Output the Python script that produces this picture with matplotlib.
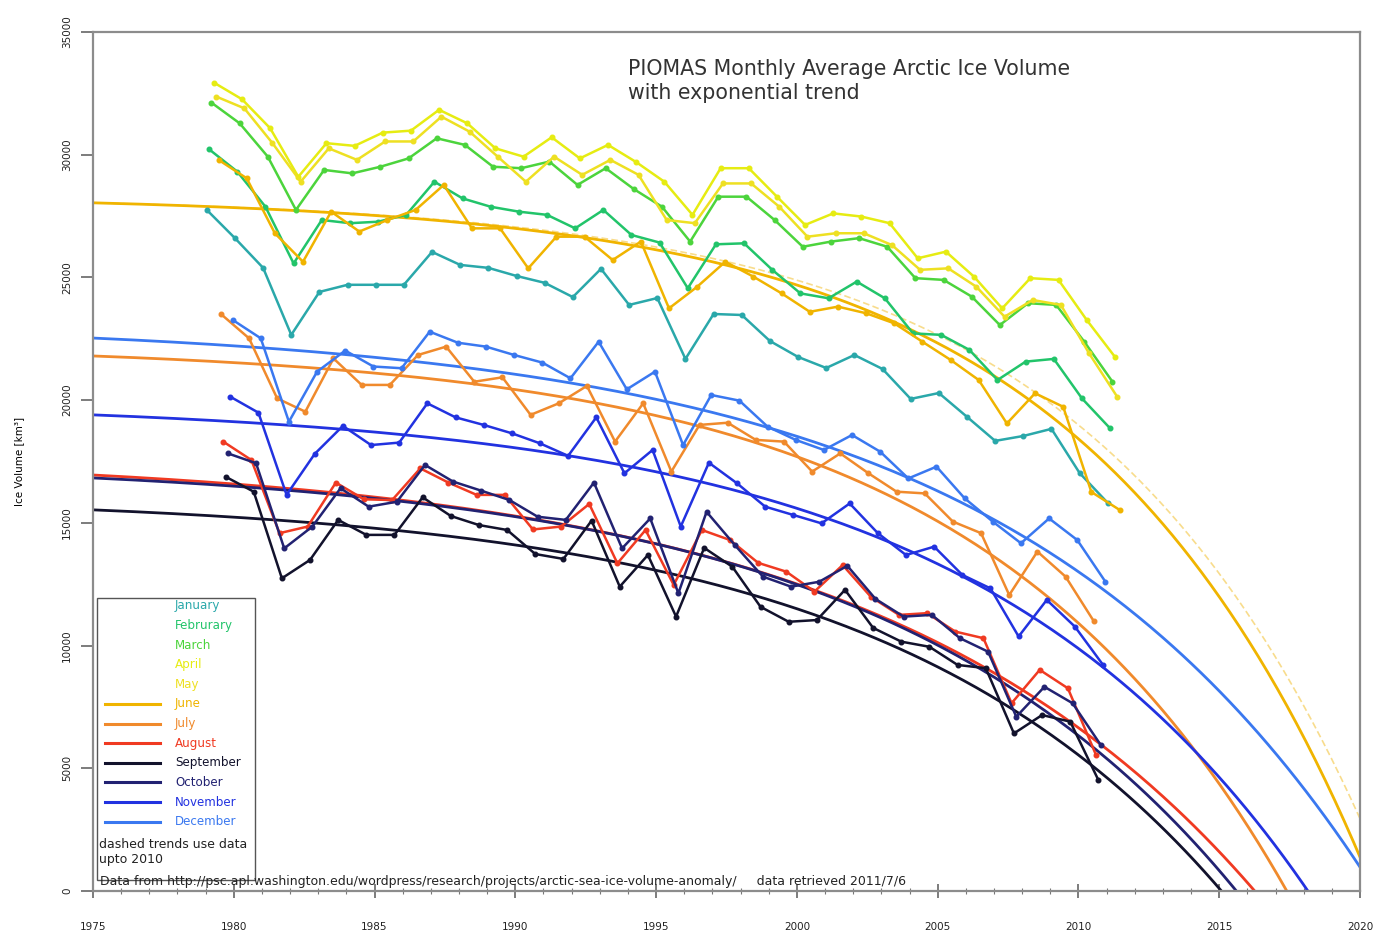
import numpy as np
import matplotlib.pyplot as plt

plt.rcParams['font.family'] = ['DejaVu Sans']

# ---------- Data: PIOMAS monthly average ice volume (km^3) ----------

MONTHS = ["January", "Februrary", "March", "April", "May", "June", "July",
          "August", "September", "October", "November", "December"]
COLORS = ["#2aa8aa", "#22c46a", "#4cd43c", "#e6ec12", "#eee022", "#f0b400",
          "#f08a2c", "#f03a22", "#12122c", "#222272", "#2232e0", "#3a78f0"]

YEARS_2011 = np.arange(1979, 2012)   # Jan - Jun go up to 2011
YEARS_2010 = np.arange(1979, 2011)   # Jul - Dec go up to 2010

jan = [27750, 26600, 25390, 22660, 24410, 24700, 24700, 24700, 26040, 25510, 25390,
       25060, 24780, 24200, 25350, 23880, 24160, 21680, 23510, 23470, 22410, 21760,
       21310, 21840, 21270, 20050, 20290, 19320, 18340, 18540, 18830, 17030, 15810]
feb = [30220, 29310, 27880, 25570, 27340, 27210, 27270, 27550, 28900, 28220, 27880,
       27680, 27550, 27000, 27750, 26730, 26420, 24560, 26350, 26390, 25310, 24350,
       24150, 24830, 24150, 22720, 22660, 22050, 20820, 21570, 21680, 20070, 18850]
mar = [32120, 31280, 29920, 27750, 29380, 29240, 29510, 29850, 30670, 30400, 29510,
       29450, 29720, 28770, 29450, 28600, 27880, 26460, 28290, 28290, 27340, 26250,
       26460, 26600, 26250, 24970, 24900, 24220, 23060, 23950, 23880, 22380, 20750]
apr = [32940, 32260, 31080, 29100, 30470, 30360, 30900, 30980, 31830, 31280, 30260,
       29920, 30710, 29850, 30400, 29700, 28900, 27550, 29450, 29450, 28290, 27140,
       27610, 27480, 27210, 25780, 26050, 25030, 23740, 24970, 24900, 23270, 21770]
may = [32370, 31890, 30470, 28900, 30260, 29790, 30540, 30540, 31550, 30940, 29920,
       28900, 29920, 29180, 29790, 29180, 27340, 27210, 28830, 28830, 27880, 26660,
       26800, 26800, 26320, 25310, 25370, 24620, 23400, 24080, 23880, 21910, 20140]
jun = [29790, 29040, 26800, 25640, 27680, 26870, 27340, 27750, 28770, 27000, 27000,
       25370, 26660, 26660, 25710, 26460, 23740, 24620, 25640, 25030, 24350, 23600,
       23810, 23540, 23130, 22380, 21640, 20820, 19050, 20280, 19730, 16260, 15530]
jul = [23510, 22520, 20070, 19530, 21700, 20620, 20620, 21840, 22180, 20750, 20930,
       19400, 19870, 20580, 18310, 19870, 17090, 18990, 19080, 18380, 18310, 17090,
       17830, 17020, 16270, 16200, 15050, 14580, 12060, 13830, 12810, 11000]
aug = [18310, 17560, 14580, 14850, 16640, 15960, 15930, 17220, 16640, 16140, 16140,
       14730, 14850, 15770, 13350, 14710, 12470, 14710, 14300, 13370, 13010, 12200,
       13280, 11990, 11250, 11320, 10570, 10300, 7650, 9010, 8260, 5540]
sep = [16880, 16270, 12740, 13490, 15120, 14510, 14510, 16040, 15280, 14910, 14710,
       13730, 13530, 15090, 12400, 13690, 11180, 13980, 13210, 11580, 10970, 11040,
       12270, 10720, 10160, 9950, 9210, 9080, 6420, 7170, 6900, 4520]
oct_ = [17830, 17430, 13960, 14850, 16410, 15660, 15860, 17360, 16680, 16310, 15930,
        15250, 15120, 16640, 13960, 15180, 12130, 15450, 14100, 12810, 12400, 12600,
        13250, 11900, 11180, 11250, 10300, 9750, 7100, 8320, 7650, 5950]
nov = [20140, 19490, 16140, 17810, 18950, 18170, 18270, 19870, 19300, 18990, 18650,
       18240, 17730, 19300, 17020, 17970, 14850, 17450, 16610, 15660, 15320, 14980,
       15790, 14580, 13690, 14030, 12880, 12330, 10370, 11860, 10770, 9210]
dec = [23270, 22520, 19120, 21160, 22020, 21370, 21300, 22790, 22340, 22180, 21840,
       21530, 20890, 22380, 20440, 21160, 18170, 20210, 19980, 18920, 18380, 17970,
       18580, 17900, 16810, 17290, 16000, 15050, 14170, 15180, 14300, 12600]

SERIES = [jan, feb, mar, apr, may, jun, jul, aug, sep, oct_, nov, dec]

# Exponential trends V(t) = A - B*exp(k*(t-1975)), for June..December,
# given by the value in 1975, the year the curve reaches zero and the rate k
trend_month = [5, 6, 7, 8, 9, 10, 11]
trend_v1975 = [28040, 21800, 16950, 15530, 16830, 19400, 22530]
trend_zero = [2020.5, 2017.4, 2016.26, 2015.08, 2015.61, 2018.15, 2020.55]
trend_k = [0.100, 0.091, 0.075, 0.083, 0.080, 0.084, 0.078]

# dashed June trend (data up to 2010)
dashed_v1975 = 28040
dashed_zero = 2021.1
dashed_k = 0.100

NOTE = "dashed trends use data\nupto 2010"
SOURCE = ("Data from http://psc.apl.washington.edu/wordpress/research/projects/"
          "arctic-sea-ice-volume-anomaly/     data retrieved 2011/7/6")


def exp_trend(t, v0, tz, k):
    g = np.exp(k * (tz - 1975))
    b = v0 / (g - 1)
    a = v0 + b
    return a - b * np.exp(k * (t - 1975))


# ---------- Figure ----------
W, H = 1391, 934
fig = plt.figure(figsize=(W / 100, H / 100), dpi=100)
AX_L, AX_R, AX_T, AX_B = 93, 1360, 32, 891
ax = fig.add_axes([AX_L / W, (H - AX_B) / H, (AX_R - AX_L) / W, (AX_B - AX_T) / H])


def axx(px):
    return (px - AX_L) / (AX_R - AX_L)


def axy(py):
    return (AX_B - py) / (AX_B - AX_T)


# trend curves
t = np.linspace(1975, 2020, 400)
for m, v0, tz, k in zip(trend_month, trend_v1975, trend_zero, trend_k):
    ax.plot(t, exp_trend(t, v0, tz, k), color=COLORS[m], lw=2.0, zorder=2)
ax.plot(t, exp_trend(t, dashed_v1975, dashed_zero, dashed_k), color="#f8dc8c",
        lw=1.2, ls=(0, (4, 2)), zorder=1)

# monthly series
for i, vals in enumerate(SERIES):
    years = YEARS_2011 if len(vals) == len(YEARS_2011) else YEARS_2010
    x = years + (i + 0.5) / 12
    ax.plot(x, vals, "-o", color=COLORS[i], lw=1.8, ms=3.3, zorder=3)

ax.set_xlim(1975, 2020)
ax.set_ylim(0, 35000)
ax.set_xticks(np.arange(1975, 2021, 5))
ax.set_xticks(np.arange(1975, 2021, 1), minor=True)
ax.set_yticks(np.arange(0, 35001, 5000))
ax.tick_params(axis="x", which="major", direction="inout", length=10, width=1.2,
               colors="#666666", labelsize=7.5, pad=17, labelcolor="#222222")
ax.tick_params(axis="x", which="minor", direction="inout", length=5, width=0.8,
               colors="#777777")
ax.tick_params(axis="y", which="major", direction="out", length=9, width=1.2,
               colors="#666666", labelsize=7.5, pad=6, labelcolor="#222222")
for lab in ax.get_yticklabels():
    lab.set_rotation(90)
    lab.set_va("center")
for sp in ax.spines.values():
    sp.set_color("#8c8c8c")
    sp.set_linewidth(1.6)

ax.set_ylabel("Ice Volume [km³]", fontsize=7.5)
ax.yaxis.set_label_coords(axx(24), 0.5)

ax.text(axx(628), axy(81), "PIOMAS Monthly Average Arctic Ice Volume\nwith exponential trend",
        transform=ax.transAxes, fontsize=14.8, color="#333333", va="center",
        linespacing=1.3)

# ---------- Legend box ----------
ax.add_patch(plt.Rectangle((axx(97), axy(880)), axx(255) - axx(97), axy(598) - axy(880),
                           transform=ax.transAxes, fill=True, facecolor="white",
                           edgecolor="#555555", lw=1.0, zorder=4))
for i, name in enumerate(MONTHS):
    yy = axy(606 + 19.6 * i)
    if i >= 5:
        ax.plot([axx(105), axx(160)], [yy, yy], color=COLORS[i], lw=2.2,
                transform=ax.transAxes, zorder=5)
    ax.text(axx(175), yy, name, color=COLORS[i], fontsize=8.6, va="center",
            transform=ax.transAxes, zorder=5)
ax.text(axx(99), axy(852), NOTE, color="#222222", fontsize=9.0, va="center",
        transform=ax.transAxes, zorder=5, linespacing=1.1)

ax.text(axx(100), axy(882), SOURCE, color="#222222", fontsize=9.0, va="center",
        transform=ax.transAxes, zorder=5)

fig.savefig("out.png", dpi=100, facecolor="white")
